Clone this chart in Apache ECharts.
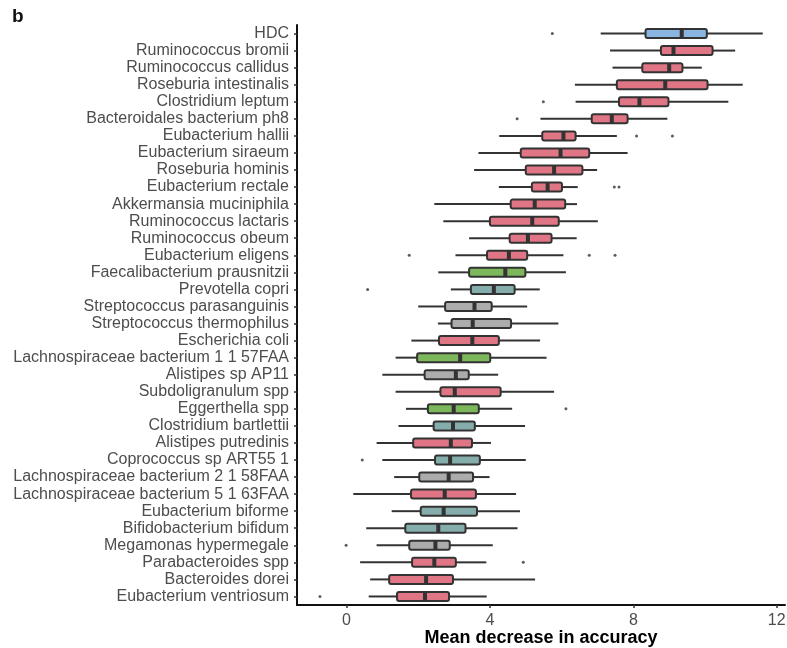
<!DOCTYPE html>
<html>
<head>
<meta charset="utf-8">
<script src="https://cdn.jsdelivr.net/npm/echarts@6/dist/echarts.min.js"></script>
<style>
html, body { margin: 0; padding: 0; background: #fff; }
#chart { width: 787px; height: 648px; }
</style>
</head>
<body>
<div id="chart"></div>
<script>
var categories = ['HDC', 'Ruminococcus bromii', 'Ruminococcus callidus', 'Roseburia intestinalis',
    'Clostridium leptum', 'Bacteroidales bacterium ph8', 'Eubacterium hallii', 'Eubacterium siraeum',
    'Roseburia hominis', 'Eubacterium rectale', 'Akkermansia muciniphila', 'Ruminococcus lactaris',
    'Ruminococcus obeum', 'Eubacterium eligens', 'Faecalibacterium prausnitzii', 'Prevotella copri',
    'Streptococcus parasanguinis', 'Streptococcus thermophilus', 'Escherichia coli',
    'Lachnospiraceae bacterium 1 1 57FAA', 'Alistipes sp AP11', 'Subdoligranulum spp',
    'Eggerthella spp', 'Clostridium bartlettii', 'Alistipes putredinis', 'Coprococcus sp ART55 1',
    'Lachnospiraceae bacterium 2 1 58FAA', 'Lachnospiraceae bacterium 5 1 63FAA',
    'Eubacterium biforme', 'Bifidobacterium bifidum', 'Megamonas hypermegale',
    'Parabacteroides spp', 'Bacteroides dorei', 'Eubacterium ventriosum'];

// box stats per category
var whiskerLow = [7.09, 7.35, 7.42, 6.37, 6.39, 5.41, 4.26, 3.68, 3.56, 4.25, 2.45, 2.70, 3.42, 3.04, 2.56, 2.91,
    2.00, 2.55, 1.81, 1.37, 1.00, 1.37, 1.66, 1.45, 0.84, 1.00, 1.33, 0.19, 1.26, 0.55, 0.84, 0.38, 0.66, 0.62];
var q1 = [8.34, 8.77, 8.25, 7.54, 7.60, 6.84, 5.46, 4.86, 5.00, 5.17, 4.58, 4.00, 4.55, 3.92, 3.42, 3.47,
    2.75, 2.93, 2.58, 1.97, 2.18, 2.62, 2.27, 2.43, 1.86, 2.47, 2.03, 1.80, 2.07, 1.64, 1.75, 1.83, 1.19, 1.41];
var median = [9.35, 9.12, 9.00, 8.89, 8.17, 7.40, 6.05, 5.97, 5.79, 5.61, 5.25, 5.18, 5.06, 4.53, 4.43, 4.11,
    3.57, 3.52, 3.51, 3.17, 3.05, 3.02, 2.99, 2.97, 2.91, 2.89, 2.85, 2.74, 2.71, 2.56, 2.48, 2.45, 2.22, 2.19];
var q3 = [10.05, 10.21, 9.37, 10.07, 8.98, 7.84, 6.39, 6.77, 6.58, 6.01, 6.10, 5.92, 5.72, 5.04, 4.99, 4.69,
    4.05, 4.59, 4.25, 4.01, 3.41, 4.30, 3.69, 3.58, 3.50, 3.72, 3.53, 3.61, 3.64, 3.32, 2.88, 3.05, 2.97, 2.86];
var whiskerHigh = [11.61, 10.84, 9.91, 11.05, 10.65, 8.95, 7.54, 7.84, 6.99, 6.45, 6.43, 7.01, 6.42, 6.05, 6.12, 5.39,
    5.04, 5.91, 5.40, 5.58, 4.23, 5.79, 4.62, 4.98, 4.03, 5.00, 3.99, 4.73, 4.84, 4.77, 4.08, 3.90, 5.26, 3.91];
var groups = ['hdc', 'red', 'red', 'red', 'red', 'red', 'red', 'red', 'red', 'red', 'red', 'red', 'red', 'red',
    'green', 'teal', 'grey', 'grey', 'red', 'green', 'grey', 'red', 'green', 'teal', 'red', 'teal', 'grey',
    'red', 'teal', 'teal', 'grey', 'red', 'red', 'red'];
// [category index, value]
var outliers = [[0, 5.74], [4, 5.49], [5, 4.76], [6, 8.09], [6, 9.09], [9, 7.47], [9, 7.60], [13, 1.75],
    [13, 6.77], [13, 7.49], [15, 0.59], [22, 6.12], [25, 0.44], [30, -0.01], [31, 4.93], [33, -0.74]];
var xTicks = [0, 4, 8, 12];

var groupColor = {hdc: '#8ab5e0', red: '#e07685', green: '#7cb75b', teal: '#85adab', grey: '#acacac'};

var boxData = categories.map(function (c, i) {
    return [i, whiskerLow[i], q1[i], median[i], q3[i], whiskerHigh[i]];
});
var outlierData = outliers.map(function (o) { return [o[1], o[0]]; });

function renderBox(params, api) {
    var y = api.value(0);
    var pLo = api.coord([api.value(1), y]);
    var pQ1 = api.coord([api.value(2), y]);
    var pMd = api.coord([api.value(3), y]);
    var pQ3 = api.coord([api.value(4), y]);
    var pHi = api.coord([api.value(5), y]);
    var cy = pMd[1];
    var h = 9;
    var fill = groupColor[groups[params.dataIndex]];
    var lineStyle = {stroke: '#333333', lineWidth: 2};
    return {
        type: 'group',
        children: [
            {type: 'line', shape: {x1: pLo[0], y1: cy, x2: pQ1[0], y2: cy}, style: lineStyle},
            {type: 'line', shape: {x1: pQ3[0], y1: cy, x2: pHi[0], y2: cy}, style: lineStyle},
            {type: 'rect', shape: {x: pQ1[0], y: cy - h / 2, width: pQ3[0] - pQ1[0], height: h, r: 2},
                style: {fill: fill, stroke: '#333333', lineWidth: 2}},
            {type: 'rect', shape: {x: pMd[0] - 2, y: cy - h / 2, width: 4, height: h},
                style: {fill: '#333333'}}
        ]
    };
}

var myChart = echarts.init(document.getElementById('chart'));
var option = {
    animation: false,
    backgroundColor: '#ffffff',
    textStyle: {fontFamily: 'Liberation Sans, Arial, sans-serif'},
    graphic: [{
        type: 'text',
        left: 12,
        top: 7,
        style: {text: 'b', fill: '#111', font: 'bold 19px Liberation Sans, Arial, sans-serif'}
    }],
    grid: {left: 297, right: 2, top: 25, bottom: 43, outerBoundsMode: 'none', containLabel: false},
    xAxis: {
        type: 'value',
        min: -1.38,
        max: 12.23,
        splitLine: {show: false},
        axisLine: {show: true, onZero: false, lineStyle: {color: '#111', width: 2}},
        axisTick: {show: true, customValues: xTicks, length: 3, lineStyle: {color: '#333', width: 1.5}},
        axisLabel: {customValues: xTicks, color: '#4d4d4d', fontSize: 16, margin: 8},
        name: 'Mean decrease in accuracy',
        nameLocation: 'middle',
        nameGap: 24,
        nameMoveOverlap: false,
        nameTextStyle: {color: '#000', fontSize: 18, fontWeight: 'bold'}
    },
    yAxis: {
        type: 'category',
        data: categories,
        inverse: true,
        axisLine: {show: true, onZero: false, lineStyle: {color: '#111', width: 2}},
        axisTick: {show: true, length: 3, alignWithLabel: true, lineStyle: {color: '#333', width: 1.5}},
        axisLabel: {color: '#4d4d4d', fontSize: 16, margin: 8, interval: 0}
    },
    series: [
        {
            type: 'custom',
            renderItem: renderBox,
            encode: {x: [1, 2, 3, 4, 5], y: 0},
            data: boxData
        },
        {
            type: 'scatter',
            symbolSize: 3,
            itemStyle: {color: '#333333'},
            data: outlierData
        }
    ]
};
myChart.setOption(option);
window.addEventListener('resize', function () {
    myChart.resize();
});
</script>
</body>
</html>
